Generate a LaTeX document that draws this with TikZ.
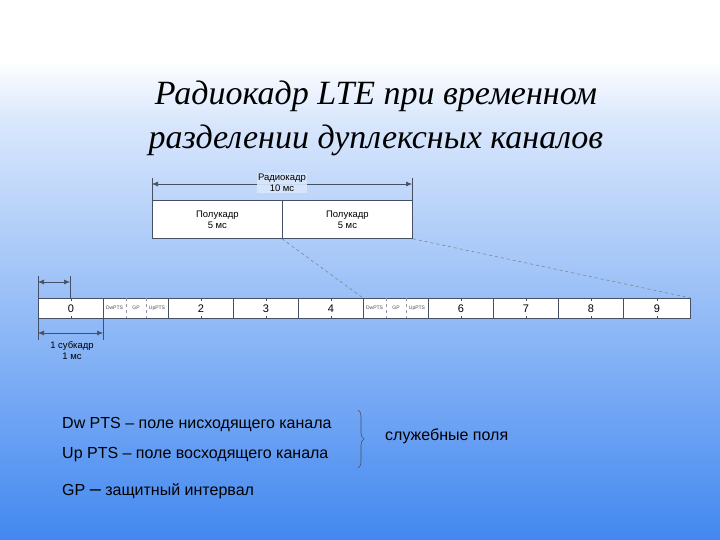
\documentclass[tikz,border=0pt]{standalone}
\usepackage{fontspec}
\setmainfont{Liberation Sans}
\newfontfamily\titlefont{Liberation Serif}
\usetikzlibrary{decorations.pathreplacing,arrows.meta}
\definecolor{bgtop}{RGB}{255,255,255}
\definecolor{bgbot}{RGB}{66,136,240}
\definecolor{ln}{RGB}{70,80,100}
\begin{document}
\begin{tikzpicture}[x=1pt,y=-1pt,
  box/.style={draw=ln,line width=0.8pt,fill=white},
  lbl/.style={font=\fontsize{9.5}{11}\selectfont,align=center,inner sep=1pt},
  num/.style={font=\fontsize{11}{12}\selectfont},
  tiny/.style={font=\fontsize{5}{5}\selectfont,text=black!70,inner sep=0pt},
  dim/.style={draw=ln,line width=0.6pt,{Latex[length=6pt,width=5pt]}-{Latex[length=6pt,width=5pt]}},
  dsh/.style={draw=ln!70,dashed,line width=0.6pt},
  body/.style={font=\fontsize{16}{18}\selectfont,anchor=west,inner sep=0pt}]
\useasboundingbox (0,0) rectangle (720,540);
\fill[white] (0,0) rectangle (720,60);
\shade[top color=white,bottom color=bgtop!80!bgbot] (0,60) rectangle (720,120);
\shade[top color=bgtop!80!bgbot,bottom color=bgbot] (0,120) rectangle (720,540);
% title
\node[font=\titlefont\itshape\fontsize{34}{44}\selectfont,align=center] (title) at (376,118) {Радиокадр LTE при временном\\разделении дуплексных каналов};
% radio frame
\node[box,minimum width=130pt,minimum height=38pt,anchor=north west,lbl] (h1) at (152,200) {Полукадр\\5 мс};
\node[box,minimum width=130pt,minimum height=38pt,anchor=north west,lbl] (h2) at (282,200) {Полукадр\\5 мс};
\coordinate (fa) at (152,184); \coordinate (fb) at (412,184);
\draw[ln,line width=0.4pt] (152,178) -- (152,200) (412,178) -- (412,200);
\draw[dim] (fa) -- (fb);
\node[lbl,fill=bgtop!80!bgbot,fill opacity=0.9,text opacity=1] (rk) at (282,183) {Радиокадр\\10 мс};
% subframes
\def\y{298}
\foreach \n/\xa/\xb in {0/38/103,2/168/233,3/233/298,4/298/363,6/428/493,7/493/558,8/558/623,9/623/690}{
  \node[box,minimum width={(\xb-\xa)*1pt},minimum height=20pt,anchor=north west,inner sep=0pt] (s\n) at (\xa,\y) {};
  \node[num] at (s\n.center) {\n};
  \draw[ln,line width=0.5pt] (s\n.north) -- ++(0,3) (s\n.south) -- ++(0,-3);
}
\foreach \k/\xa in {1/103,5/363}{
  \node[box,minimum width=65pt,minimum height=20pt,anchor=north west,inner sep=0pt] (s\k) at (\xa,\y) {};
  \draw[ln!60,dashed,line width=0.3pt] (\xa+23,\y) -- (\xa+23,\y+20) (\xa+43,\y) -- (\xa+43,\y+20);
  \node[tiny] at (\xa+11.5,\y+10) {DwPTS};
  \node[tiny] at (\xa+33,\y+10) {GP};
  \node[tiny] at (\xa+54,\y+10) {UpPTS};
}
% zoom lines
\draw[dsh] (h2.south west) -- (s5.north west);
\draw[dsh] (h2.south east) -- (s9.north east);
% subframe dims
\draw[ln,line width=0.4pt] (38,276) -- (38,298) (70,276) -- (70,298) (38,318) -- (38,340) (103,318) -- (103,340);
\coordinate (d1a) at (38,282); \coordinate (d1b) at (70,282);
\draw[dim] (d1a) -- (d1b);
\coordinate (d2a) at (38,333); \coordinate (d2b) at (103,333);
\draw[dim] (d2a) -- (d2b);
\node[lbl] (sk) at (72,351) {1 субкадр\\1 мс};
% legend
\node[body] (l1) at (62,425) {Dw PTS – поле нисходящего канала};
\node[body] (l2) at (62,455) {Up PTS – поле восходящего канала};
\node[body] (l3) at (62,491) {GP {\fontsize{20}{20}\selectfont –} защитный интервал};
\draw[ln,line width=0.6pt,decorate,decoration={brace,amplitude=6pt}] (358,410) -- (358,468);
\node[body] (sl) at (385,436) {служебные поля};
\end{tikzpicture}
\end{document}
